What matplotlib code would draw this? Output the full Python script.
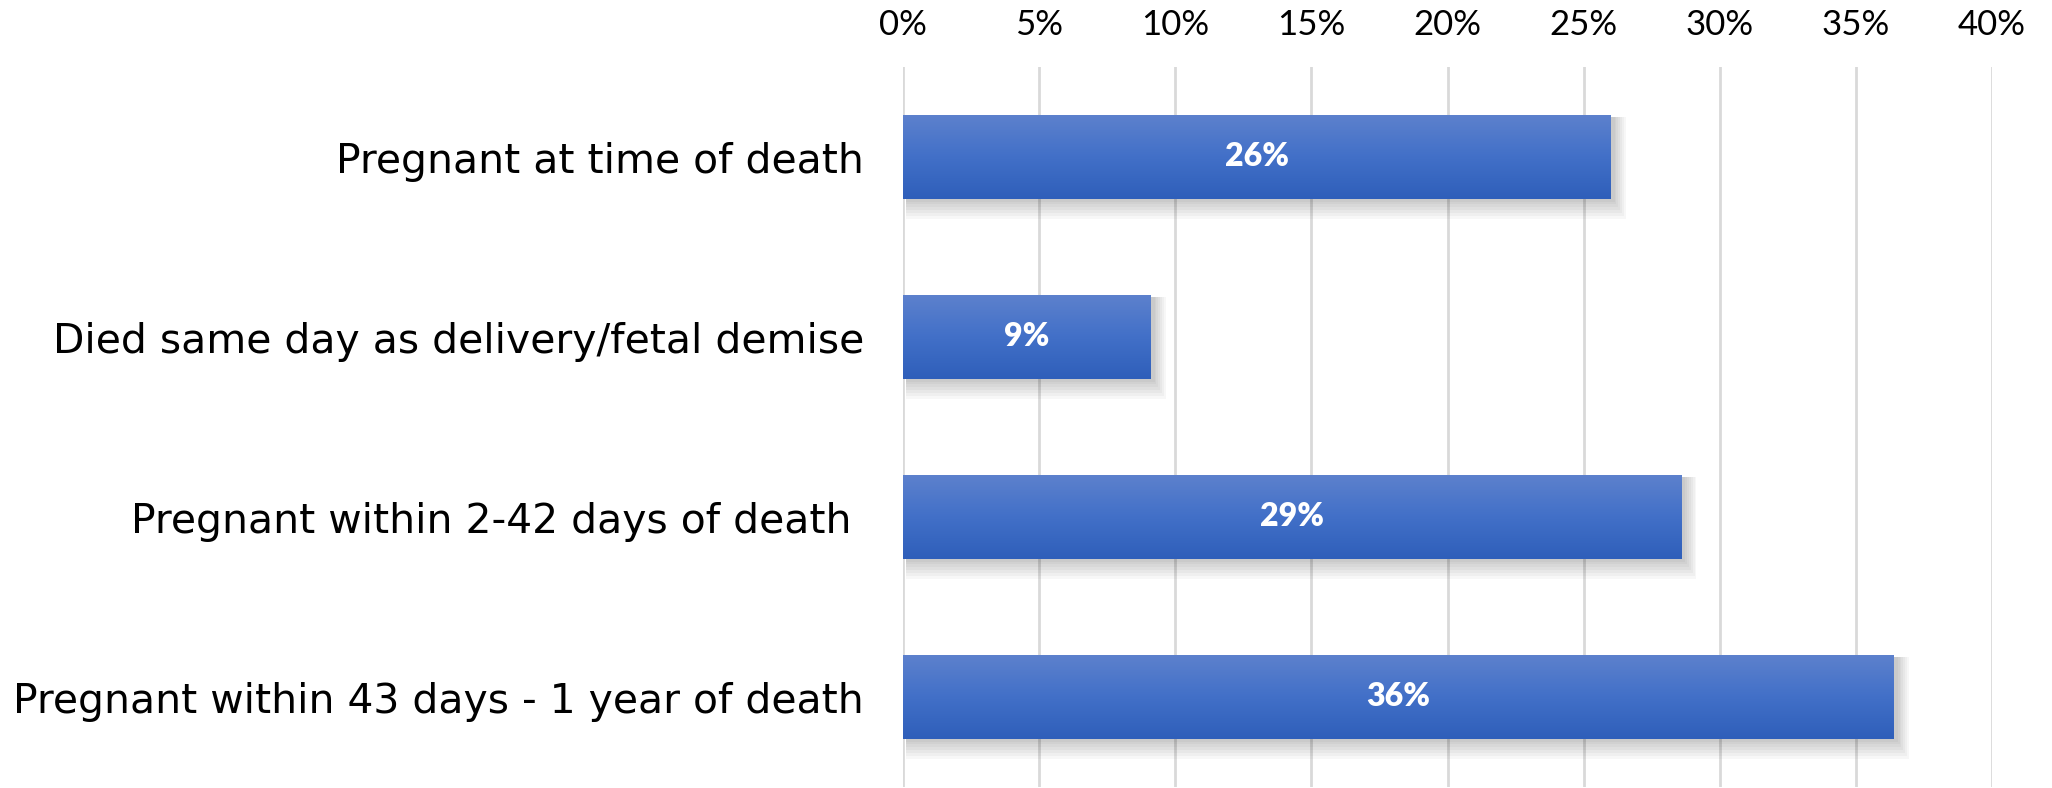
import numpy as np
import matplotlib
matplotlib.use("Agg")
import matplotlib.pyplot as plt
from matplotlib.patches import Rectangle
from matplotlib.colors import LinearSegmentedColormap

categories = [
    "Pregnant at time of death",
    "Died same day as delivery/fetal demise",
    "Pregnant within 2-42 days of death ",
    "Pregnant within 43 days - 1 year of death",
]
shares = [26.0, 9.1, 28.6, 36.4]  # percent of deaths
x_ticks = [0, 5, 10, 15, 20, 25, 30, 35, 40]

plt.rcParams["font.family"] = ["Lato", "DejaVu Sans"]

fig = plt.figure(figsize=(20.52, 7.88), dpi=100)
ax = fig.add_axes([903 / 2052, 1 / 788, 1089 / 2052, 720 / 788])

bar_h = 0.472
grad = LinearSegmentedColormap.from_list("bar", ["#5d81cd", "#4270c8", "#2f5fba"])
ys = np.arange(len(categories))

for y, v in zip(ys, shares):
    # soft drop shadow below and to the right
    for k in range(7):
        s = 0.045 * k
        ax.add_patch(Rectangle((0.1, y - bar_h / 2 + 0.012),
                               v + 0.04 + s * 1.5, bar_h + s * 0.35,
                               facecolor="black", alpha=0.03, lw=0, zorder=2))
    rect = Rectangle((0, y - bar_h / 2), v, bar_h, facecolor="none", lw=0, zorder=3)
    ax.add_patch(rect)
    im = ax.imshow(np.linspace(0, 1, 64).reshape(-1, 1), cmap=grad, aspect="auto",
                   extent=(0, v, y + bar_h / 2, y - bar_h / 2), zorder=3)
    im.set_clip_path(rect)
    ax.text(v / 2, y, f"{v:.0f}%", ha="center", va="center", color="white",
            fontsize=23, fontweight="heavy", zorder=4)

ax.set_xlim(0, 40)
ax.set_ylim(len(categories) - 0.5, -0.5)
ax.set_xticks(x_ticks)
ax.set_xticklabels([f"{t}%" for t in x_ticks])
ax.set_yticks(ys)
ax.set_yticklabels(categories, family="DejaVu Sans")
ax.xaxis.tick_top()
ax.tick_params(axis="x", length=0, pad=19, labelsize=25, colors="black")
ax.tick_params(axis="y", length=0, pad=28, labelsize=29.4, colors="black")
ax.grid(axis="x", color="#d9d9d9", lw=2, zorder=0)
ax.set_axisbelow(True)
for sp in ax.spines.values():
    sp.set_visible(False)

fig.savefig("out.png", dpi=100, facecolor="white")
